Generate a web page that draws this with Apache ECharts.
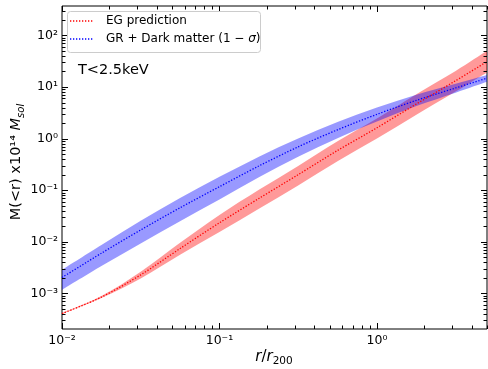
<!DOCTYPE html>
<html><head><meta charset="utf-8">
<script src="https://cdn.jsdelivr.net/npm/echarts@6/dist/echarts.min.js"></script>
<style>html,body{margin:0;padding:0;background:#fff}#c{width:488px;height:369px}</style>
</head><body><div id="c"></div>
<script>
// r / r200
const radius = [0.01, 0.0178, 0.0316, 0.0562, 0.1, 0.178, 0.316, 0.562, 1.0, 1.78, 3.16, 5.0];
// EG prediction (x10^14 Msol)
const egMid  = [4.07e-4, 8.51e-4, 2.29e-3, 7.41e-3, 0.0234, 0.0692, 0.200, 0.589, 1.62, 4.68, 13.2, 30.9];
const egHigh = [4.17e-4, 8.91e-4, 2.63e-3, 9.55e-3, 0.0331, 0.102, 0.295, 0.891, 2.45, 7.24, 20.4, 50.1];
const egLow  = [3.98e-4, 8.13e-4, 1.95e-3, 5.62e-3, 0.0155, 0.0437, 0.123, 0.363, 1.0, 2.88, 8.13, 19.1];
// GR + Dark matter
const grMid  = [2.04e-3, 6.03e-3, 0.0170, 0.0457, 0.117, 0.295, 0.692, 1.48, 2.95, 5.50, 9.55, 14.8];
const grHigh = [2.88e-3, 8.71e-3, 0.0257, 0.0708, 0.182, 0.447, 1.0, 2.09, 3.98, 7.08, 11.5, 17.0];
const grLow  = [1.17e-3, 3.39e-3, 9.33e-3, 0.0251, 0.0661, 0.178, 0.447, 1.02, 2.14, 4.27, 7.76, 12.6];
// axis extents and tick labels
const xRange = [0.01, 5];
const yRange = [2.05e-4, 370];
const xTickExp = [-2, -1, 0];
const xTickLabels = ['10⁻²', '10⁻¹', '10⁰'];
const yTickExp = [-3, -2, -1, 0, 1, 2];
const yTickLabels = ['10⁻³', '10⁻²', '10⁻¹', '10⁰', '10¹', '10²'];
const legendNames = ['EG prediction', 'GR + Dark matter (1 − {it|σ})'];
const annotation = 'T<2.5keV';

const L = Math.log10;
const FONT = 'DejaVu Sans';
const pts = arr => radius.map((r, i) => [L(r), L(arr[i])]);

const xMin = L(xRange[0]), xMax = L(xRange[1]);
const yMin = L(yRange[0]), yMax = L(yRange[1]);

// Catmull-Rom spline through pixel points -> SVG path commands
function spline(p, start) {
  let d = start ? 'M' + p[0][0] + ' ' + p[0][1] : 'L' + p[0][0] + ' ' + p[0][1];
  for (let i = 0; i < p.length - 1; i++) {
    const p0 = p[Math.max(0, i - 1)], p1 = p[i], p2 = p[i + 1], p3 = p[Math.min(p.length - 1, i + 2)];
    const c1 = [p1[0] + (p2[0] - p0[0]) / 6, p1[1] + (p2[1] - p0[1]) / 6];
    const c2 = [p2[0] - (p3[0] - p1[0]) / 6, p2[1] - (p3[1] - p1[1]) / 6];
    d += ' C' + c1[0] + ' ' + c1[1] + ' ' + c2[0] + ' ' + c2[1] + ' ' + p2[0] + ' ' + p2[1];
  }
  return d;
}
function bandSeries(name, lo, hi, color) {
  const data = radius.map((r, i) => [L(r), L(lo[i]), L(hi[i])]);
  return {
    type: 'custom', name: name, data: data, silent: true, z: 1, clip: true,
    encode: { x: 0, y: [1, 2] },
    renderItem: function (params, api) {
      if (params.dataIndex !== 0) return null;
      const up = data.map(d => api.coord([d[0], d[2]]));
      const dn = data.map(d => api.coord([d[0], d[1]])).reverse();
      const path = spline(up, true) + ' ' + spline(dn, false) + ' Z';
      return { type: 'path', shape: { pathData: path }, style: { fill: color, stroke: null } };
    }
  };
}
function midSeries(name, mid, color) {
  return { type: 'line', name: name, data: pts(mid), smooth: 0.3, symbol: 'none', z: 3,
    lineStyle: { color: color, width: 1.3, type: [1.3, 1.7] } };
}

function renderAxes(params, api) {
  const cs = params.coordSys;
  const left = cs.x, top = cs.y, right = cs.x + cs.width, bottom = cs.y + cs.height;
  const children = [];
  const tick = (x1, y1, x2, y2) => children.push({ type: 'line', shape: { x1, y1, x2, y2 },
    style: { stroke: '#000', lineWidth: 1 } });
  const MAJ = 6, MIN = 3.5;
  for (let n = Math.floor(xMin); n <= Math.ceil(xMax); n++) {
    for (let k = 1; k <= 9; k++) {
      const v = n + L(k);
      if (v < xMin - 1e-9 || v > xMax + 1e-9) continue;
      const px = Math.round(api.coord([v, yMin])[0]) + 0.5;
      const len = k === 1 ? MAJ : MIN;
      tick(px, bottom, px, bottom - len);
      tick(px, top, px, top + len);
    }
  }
  for (let n = Math.floor(yMin); n <= Math.ceil(yMax); n++) {
    for (let k = 1; k <= 9; k++) {
      const v = n + L(k);
      if (v < yMin - 1e-9 || v > yMax + 1e-9) continue;
      const py = Math.round(api.coord([xMin, v])[1]) + 0.5;
      const len = k === 1 ? MAJ : MIN;
      tick(left, py, left + len, py);
      tick(right, py, right - len, py);
    }
  }
  xTickExp.forEach((e, i) => {
    const p = api.coord([e, yMin]);
    children.push({ type: 'text', style: { text: xTickLabels[i], x: p[0], y: bottom + 5,
      align: 'center', verticalAlign: 'top', fontFamily: FONT, fontSize: 12.5, fill: '#000' } });
  });
  yTickExp.forEach((e, i) => {
    const p = api.coord([xMin, e]);
    children.push({ type: 'text', style: { text: yTickLabels[i], x: left - 4, y: p[1],
      align: 'right', verticalAlign: 'middle', fontFamily: FONT, fontSize: 12.5, fill: '#000' } });
  });
  return { type: 'group', children };
}

const chart = echarts.init(document.getElementById('c'), null, { renderer: 'canvas' });
chart.setOption({
  animation: false,
  backgroundColor: '#fff',
  grid: { left: 62, top: 6, width: 425, height: 323, show: true, borderColor: '#000', borderWidth: 1,
    backgroundColor: 'transparent', containLabel: false, outerBoundsMode: 'none' },
  xAxis: { type: 'value', min: xMin, max: xMax, axisLine: { show: false }, axisTick: { show: false },
    axisLabel: { show: false }, splitLine: { show: false } },
  yAxis: { type: 'value', min: yMin, max: yMax, axisLine: { show: false }, axisTick: { show: false },
    axisLabel: { show: false }, splitLine: { show: false } },
  series: [
    bandSeries('EG band', egLow, egHigh, 'rgba(255,0,0,0.4)'),
    bandSeries('GR band', grLow, grHigh, 'rgba(0,0,255,0.4)'),
    midSeries('EG prediction', egMid, '#ff0000'),
    midSeries('GR + Dark matter', grMid, '#0000ff'),
    { type: 'custom', name: 'axes', data: [[xMin, yMin]], clip: false, silent: true, z: 5,
      renderItem: renderAxes }
  ],
  graphic: [
    { type: 'rect', shape: { x: 67.5, y: 11.5, width: 193, height: 41, r: 3 }, z: 10,
      style: { fill: 'rgba(255,255,255,0.8)', stroke: '#cccccc', lineWidth: 1 } },
    { type: 'line', shape: { x1: 70, y1: 21, x2: 94, y2: 21 }, z: 11,
      style: { stroke: '#ff0000', lineWidth: 1.3, lineDash: [1.3, 1.7] } },
    { type: 'line', shape: { x1: 70, y1: 39, x2: 94, y2: 39 }, z: 11,
      style: { stroke: '#0000ff', lineWidth: 1.3, lineDash: [1.3, 1.7] } },
    { type: 'text', x: 106, y: 21, z: 11, style: { text: legendNames[0], fontFamily: FONT, fontSize: 12,
      fill: '#000', verticalAlign: 'middle' } },
    { type: 'text', x: 106, y: 39, z: 11, style: { text: legendNames[1], fontFamily: FONT, fontSize: 12,
      fill: '#000', verticalAlign: 'middle', rich: { it: { fontStyle: 'italic', fontFamily: FONT, fontSize: 12 } } } },
    { type: 'text', x: 78, y: 70, z: 11, style: { text: annotation, fontFamily: FONT, fontSize: 14.5,
      fill: '#000', verticalAlign: 'middle' } },
    { type: 'text', x: 274, y: 357, z: 11, style: {
      text: '{i|r}{n|/}{i|r}{s|200}', align: 'center', verticalAlign: 'middle',
      rich: { i: { fontFamily: FONT, fontStyle: 'italic', fontSize: 15, lineHeight: 20, verticalAlign: 'middle' },
              n: { fontFamily: FONT, fontSize: 15, lineHeight: 20, verticalAlign: 'middle' },
              s: { fontFamily: FONT, fontSize: 10.5, lineHeight: 20, verticalAlign: 'bottom' } } } },
    { type: 'text', x: 16, y: 162, rotation: Math.PI / 2, z: 11, style: {
      text: '{n|M(<r) x10¹⁴ }{i|M}{s|sol}', align: 'center', verticalAlign: 'middle',
      rich: { n: { fontFamily: FONT, fontSize: 14.5, lineHeight: 20, verticalAlign: 'middle' },
              i: { fontFamily: FONT, fontStyle: 'italic', fontSize: 14.5, lineHeight: 20, verticalAlign: 'middle' },
              s: { fontFamily: FONT, fontStyle: 'italic', fontSize: 10, lineHeight: 20, verticalAlign: 'bottom' } } } }
  ]
});
</script></body></html>
